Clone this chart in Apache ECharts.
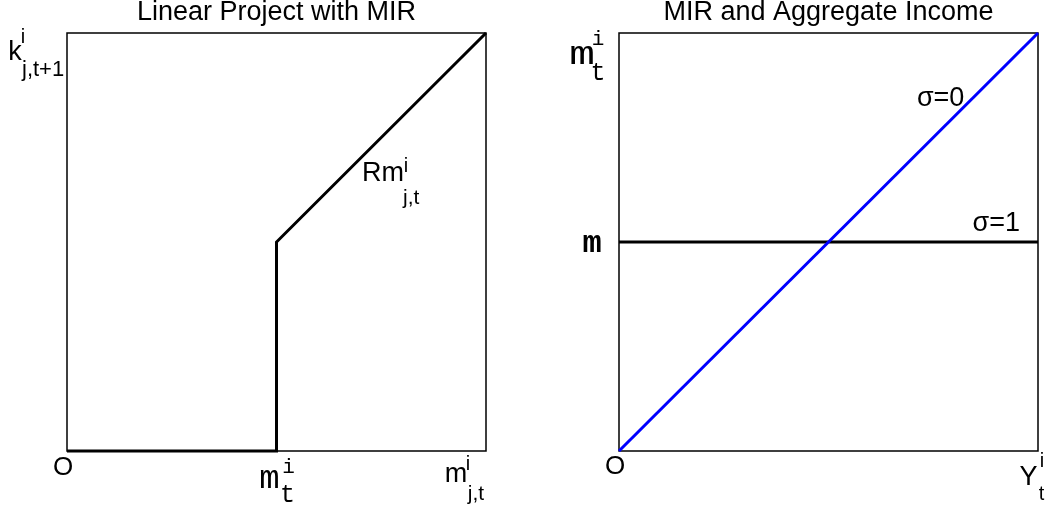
<!DOCTYPE html>
<html>
<head>
<meta charset="utf-8">
<script src="https://cdn.jsdelivr.net/npm/echarts@6/dist/echarts.min.js"></script>
<style>
  html, body { margin: 0; padding: 0; background: #fff; }
  #chart { width: 1045px; height: 511px; }
</style>
</head>
<body>
<div id="chart"></div>
<script>
// Panel titles
const leftTitle = 'Linear Project with MIR';
const rightTitle = 'MIR and Aggregate Income';

// Left panel: capital of a linear project against its input
const projectX = [0, 0.5, 0.5, 1];
const projectY = [0, 0, 0.5, 1];

// Right panel: MIR against aggregate income for two values of sigma
const incomeX = [0, 1];
const sigma0Y = [0, 1];
const sigma1Y = [0.5, 0.5];
const sigmaNames = ['σ=0', 'σ=1'];

// Tick positions carrying symbolic labels
const leftTicksX = [0, 0.5, 1];
const rightTicksX = [0, 1];
const rightTicksY = [1, 0.5];

const SANS = '"Liberation Sans", Arial, Helvetica, sans-serif';
const MONO = '"Liberation Mono", "Courier New", monospace';

const zip = (xs, ys) => xs.map((x, i) => [x, ys[i]]);

const chart = echarts.init(document.getElementById('chart'), null, { renderer: 'canvas' });

const gridBase = {
  top: 33, height: 418, width: 419,
  show: true, borderColor: '#000', borderWidth: 1.5, backgroundColor: 'transparent'
};
const hiddenAxis = (gridIndex) => ({
  type: 'value', gridIndex, min: 0, max: 1,
  axisLine: { show: false }, axisTick: { show: false },
  axisLabel: { show: false }, splitLine: { show: false }
});

chart.setOption({
  animation: false,
  grid: [
    Object.assign({ left: 67 }, gridBase),
    Object.assign({ left: 619 }, gridBase)
  ],
  xAxis: [hiddenAxis(0), hiddenAxis(1)],
  yAxis: [hiddenAxis(0), hiddenAxis(1)],
  series: [
    {
      name: 'project', type: 'line', xAxisIndex: 0, yAxisIndex: 0,
      data: zip(projectX, projectY), showSymbol: false, clip: false,
      lineStyle: { color: '#000', width: 3, join: 'miter' }
    },
    {
      name: sigmaNames[1], type: 'line', xAxisIndex: 1, yAxisIndex: 1,
      data: zip(incomeX, sigma1Y), showSymbol: false, clip: false,
      lineStyle: { color: '#000', width: 3 }
    },
    {
      name: sigmaNames[0], type: 'line', xAxisIndex: 1, yAxisIndex: 1,
      data: zip(incomeX, sigma0Y), showSymbol: false, clip: false,
      lineStyle: { color: '#0000ff', width: 3 }
    }
  ]
});

// Text built from pieces (base, superscript, subscript) placed around an anchor pixel
function pieces(anchor, parts) {
  return parts.map(p => ({
    type: 'text',
    x: anchor[0] + (p.dx || 0),
    y: anchor[1] + (p.dy || 0),
    scaleX: p.sx || 1,
    silent: true,
    style: {
      text: p.t,
      fontFamily: p.f || SANS,
      fontSize: p.s || 27,
      fontWeight: p.w || 'normal',
      fill: '#000',
      align: p.a || 'center',
      verticalAlign: 'middle'
    }
  }));
}
const px = (g, v) => chart.convertToPixel({ gridIndex: g }, v);

const elements = [];

// Titles
elements.push(...pieces(px(0, [0.5, 1]), [{ t: leftTitle, dy: -20.5 }]));
elements.push(...pieces(px(1, [0.5, 1]), [{ t: rightTitle, dy: -20.5 }]));

// Left x-axis labels: O, m^i_t, m^i_{j,t}
const leftXLabels = [
  [{ t: 'O', s: 26, dx: -4, dy: 17 }],
  [{ t: 'm', f: MONO, s: 34, dx: -7, dy: 27.5 },
   { t: 'i', f: MONO, s: 21, dx: 12, dy: 16.5 },
   { t: 't', f: MONO, s: 25, dx: 11, dy: 44 }],
  [{ t: 'm', s: 27, dx: -30, dy: 24 },
   { t: 'i', s: 20, dx: -18, dy: 13 },
   { t: 'j,t', s: 21, dx: -10, dy: 43 }]
];
leftTicksX.forEach((v, i) => elements.push(...pieces(px(0, [v, 0]), leftXLabels[i])));

// Left y-axis label: k^i_{j,t+1}
elements.push(...pieces(px(0, [0, 1]), [
  { t: 'k', s: 27, dx: -52, dy: 20 },
  { t: 'i', s: 20, dx: -44, dy: 4 },
  { t: 'j,t+1', s: 22, dx: -45, dy: 37, a: 'left' }
]));

// Label on the sloped part of the project line: Rm^i_{j,t}
elements.push(...pieces(px(0, [0.704, 0.663]), [
  { t: 'Rm', s: 27, a: 'left' },
  { t: 'i', s: 20, dx: 44, dy: -7.5 },
  { t: 'j,t', s: 21, dx: 41, dy: 24, a: 'left' }
]));

// Right x-axis labels: O, Y^i_t
const rightXLabels = [
  [{ t: 'O', s: 26, dx: -4, dy: 16 }],
  [{ t: 'Y', s: 27, dx: -9.5, dy: 26.5 },
   { t: 'i', s: 20, dx: 4, dy: 10 },
   { t: 't', s: 20, dx: 3.5, dy: 43 }]
];
rightTicksX.forEach((v, i) => elements.push(...pieces(px(1, [v, 0]), rightXLabels[i])));

// Right y-axis labels: m^i_t at the top, bold m at the flat line
const rightYLabels = [
  [{ t: 'm', f: MONO, s: 33, sx: 1.3, dx: -37, dy: 22 },
   { t: 'i', f: MONO, s: 21, dx: -21, dy: 6.5 },
   { t: 't', f: MONO, s: 25, dx: -21, dy: 40.5 }],
  [{ t: 'm', f: MONO, s: 32, w: 'bold', dx: -27, dy: 2.3 }]
];
rightTicksY.forEach((v, i) => elements.push(...pieces(px(1, [0, v]), rightYLabels[i])));

// Curve names
elements.push(...pieces(px(1, [0.711, 0.843]), [{ t: sigmaNames[0], a: 'left' }]));
elements.push(...pieces(px(1, [0.957, 0.545]), [{ t: sigmaNames[1], a: 'right' }]));

chart.setOption({ graphic: { elements } });
</script>
</body>
</html>
